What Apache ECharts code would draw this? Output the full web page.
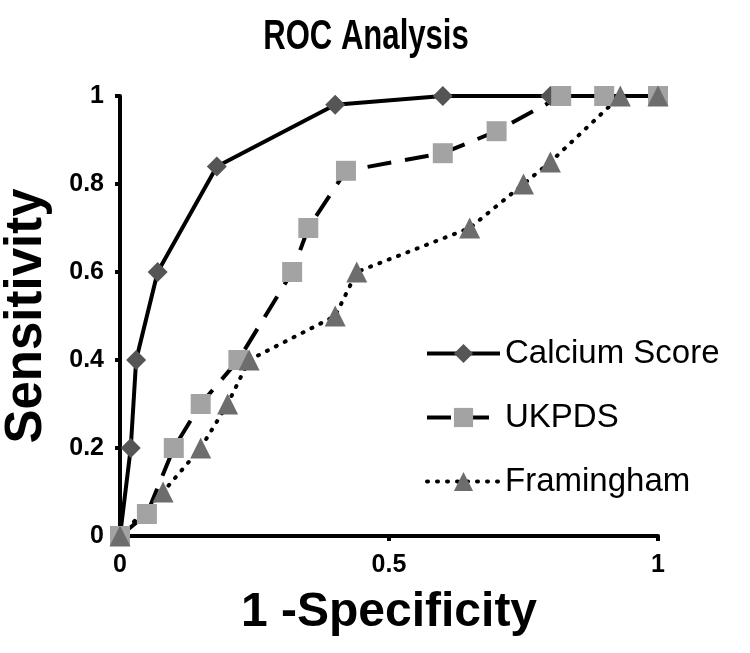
<!DOCTYPE html>
<html>
<head>
<meta charset="utf-8">
<script src="https://cdn.jsdelivr.net/npm/echarts@6/dist/echarts.min.js"></script>
<style>html,body{margin:0;padding:0;background:#fff}#chart{width:750px;height:653px}</style>
</head>
<body>
<div id="chart"></div>
<script>
// Data (x = 1 - specificity, y = sensitivity)
const calciumX = [0, 0.02, 0.03, 0.07, 0.18, 0.40, 0.60, 0.80, 1.00];
const calciumY = [0, 0.20, 0.40, 0.60, 0.84, 0.98, 1.00, 1.00, 1.00];
const ukpdsX = [0, 0.05, 0.10, 0.15, 0.22, 0.32, 0.35, 0.42, 0.60, 0.70, 0.82, 0.90, 1.00];
const ukpdsY = [0, 0.05, 0.20, 0.30, 0.40, 0.60, 0.70, 0.83, 0.87, 0.92, 1.00, 1.00, 1.00];
const framX = [0, 0.08, 0.15, 0.20, 0.24, 0.40, 0.44, 0.65, 0.75, 0.80, 0.93, 1.00];
const framY = [0, 0.10, 0.20, 0.30, 0.40, 0.50, 0.60, 0.70, 0.80, 0.85, 1.00, 1.00];
const seriesNames = ['Calcium Score', 'UKPDS', 'Framingham'];
const titleText = 'ROC Analysis';
const xAxisName = '1 -Specificity';
const yAxisName = 'Sensitivity';

const FONT = "'Liberation Sans', Arial, sans-serif";
const pairs = (xs, ys) => xs.map((x, i) => [x, ys[i]]);

const chart = echarts.init(document.getElementById('chart'), null, {renderer: 'canvas'});
const axisCommon = {
  type: 'value', min: 0, max: 1,
  axisLine: {show: true, onZero: false, lineStyle: {color: '#000', width: 4}},
  axisTick: {show: true, inside: false, length: 5, lineStyle: {color: '#000', width: 4}},
  splitLine: {show: false},
  axisLabel: {color: '#000', fontFamily: FONT, fontWeight: 'bold', fontSize: 25},
  nameLocation: 'middle',
  nameTextStyle: {color: '#000', fontFamily: FONT, fontWeight: 'bold', fontSize: 48}
};
chart.setOption({
  animation: false,
  backgroundColor: '#fff',
  graphic: [{
    type: 'text', x: 366, y: 37, scaleX: 0.74,
    style: {
      text: titleText, textAlign: 'center', textVerticalAlign: 'middle',
      fill: '#000', fontFamily: FONT, fontWeight: 'bold', fontSize: 42
    }
  }],
  grid: {left: 120, right: 92, top: 96, bottom: 117, containLabel: false, outerBoundsMode: 'none'},
  xAxis: Object.assign({}, axisCommon, {
    interval: 0.5, name: xAxisName, nameGap: 53,
    axisLabel: Object.assign({}, axisCommon.axisLabel, {margin: 17})
  }),
  yAxis: Object.assign({}, axisCommon, {
    interval: 0.2, name: yAxisName, nameGap: 68, nameRotate: 90,
    axisLabel: Object.assign({}, axisCommon.axisLabel, {margin: 16}),
    nameTextStyle: Object.assign({}, axisCommon.nameTextStyle, {fontSize: 51})
  }),
  legend: {
    data: seriesNames, orient: 'vertical', left: 420, top: 332,
    itemWidth: 73, itemHeight: 24, itemGap: 31,
    lineStyle: {width: 4},
    textStyle: {color: '#000', fontFamily: FONT, fontSize: 33}
  },
  series: [
    {
      name: seriesNames[0], type: 'line', data: pairs(calciumX, calciumY),
      symbol: 'diamond', symbolSize: 20, showAllSymbol: true,
      lineStyle: {color: '#000', width: 4, type: 'solid'},
      itemStyle: {color: '#555555', borderWidth: 0}
    },
    {
      name: seriesNames[1], type: 'line', data: pairs(ukpdsX, ukpdsY),
      symbol: 'rect', symbolSize: 20, showAllSymbol: true,
      lineStyle: {color: '#000', width: 4, type: [24, 14]},
      itemStyle: {color: '#a3a3a3', borderWidth: 0}
    },
    {
      name: seriesNames[2], type: 'line', data: pairs(framX, framY),
      symbol: 'triangle', symbolSize: 21, showAllSymbol: true,
      lineStyle: {color: '#000', width: 4, type: [1, 9], cap: 'round'},
      itemStyle: {color: '#6d6d6d', borderWidth: 0}
    }
  ]
});
</script>
</body>
</html>
